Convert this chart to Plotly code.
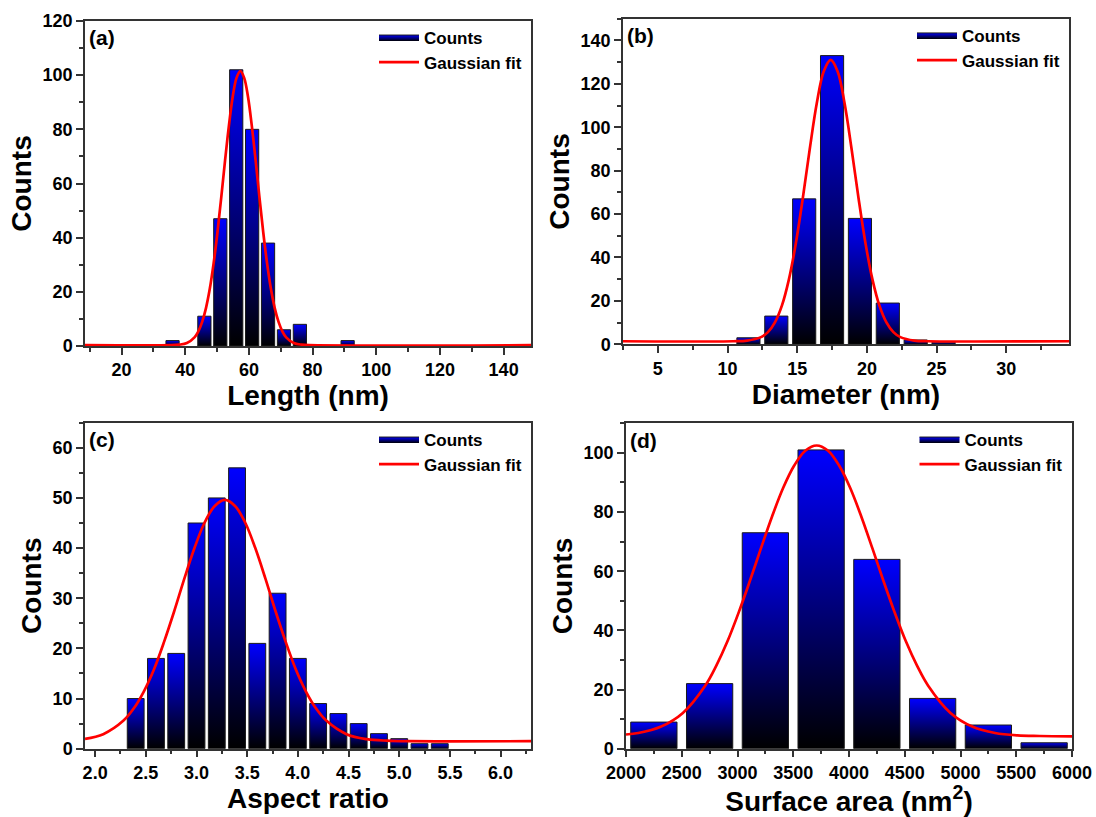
import plotly.graph_objects as go

# ---------------- data ----------------
# (a) Length
len_centers = [36, 46, 51, 56, 61, 66, 71, 76, 91]
len_counts = [2, 11, 47, 102, 80, 38, 6, 8, 2]
len_bin = 5
len_fit_x = [8.5, 35.7, 38.1, 40.5, 42.9, 44.1, 45.3, 46.5, 47.7, 48.9, 50.1, 51.3, 52.5,
             53.7, 54.9, 56.1, 57.3, 58.5, 59.7, 60.9, 62.1, 63.3, 64.5, 65.7, 66.9,
             68.1, 69.3, 70.5, 71.7, 74.1, 76.5, 78.9, 148.6]
len_fit_y = [0.3, 0.3, 0.5, 1.1, 3.2, 5.4, 8.9, 14.0, 21.1, 30.5, 41.9, 54.9, 68.5,
             81.3, 92.0, 99.0, 101.5, 99.0, 92.0, 81.3, 68.5, 54.9, 41.9, 30.5, 21.1,
             14.0, 8.9, 5.4, 3.2, 1.1, 0.5, 0.3, 0.3]

# (b) Diameter
dia_centers = [11.5, 13.5, 15.5, 17.5, 19.5, 21.5, 23.5, 25.5]
dia_counts = [3, 13, 67, 133, 58, 19, 2, 1]
dia_bin = 2
dia_fit_x = [2.5, 10.4, 11.4, 12.4, 12.9, 13.4, 13.9, 14.4, 14.9, 15.4, 15.9, 16.4, 16.9,
             17.4, 17.9, 18.4, 18.9, 19.4, 19.9, 20.4, 20.9, 21.4, 21.9, 22.4, 23.4,
             24.4, 34.5]
dia_fit_y = [1.4, 1.4, 1.7, 3.3, 5.6, 10.1, 17.8, 29.8, 46.5, 67.3, 90.0, 110.9, 125.7,
             131.0, 125.7, 110.9, 90.0, 67.3, 46.5, 29.8, 17.8, 10.1, 5.6, 3.3, 1.7,
             1.4, 1.4]

# (c) Aspect ratio
ar_centers = [2.4, 2.6, 2.8, 3.0, 3.2, 3.4, 3.6, 3.8, 4.0, 4.2, 4.4, 4.6, 4.8, 5.0, 5.2, 5.4]
ar_counts = [10, 18, 19, 45, 50, 56, 21, 31, 18, 9, 7, 5, 3, 2, 1, 1]
ar_bin = 0.2
ar_fit_x = [1.9, 2.08, 2.28, 2.38, 2.48, 2.58, 2.68, 2.78, 2.88, 2.98, 3.08, 3.18, 3.28,
            3.38, 3.48, 3.58, 3.68, 3.78, 3.88, 3.98, 4.08, 4.18, 4.28, 4.48, 4.68,
            4.88, 5.08, 6.3]
ar_fit_y = [1.95, 2.9, 5.6, 8.0, 11.4, 15.8, 21.3, 27.4, 33.9, 40.0, 45.1, 48.4, 49.6,
            48.4, 45.1, 40.0, 33.9, 27.4, 21.3, 15.8, 11.4, 8.0, 5.6, 2.9, 1.9,
            1.6, 1.5, 1.5]

# (d) Surface area
sa_centers = [2250, 2750, 3250, 3750, 4250, 4750, 5250, 5750]
sa_counts = [9, 22, 73, 101, 64, 17, 8, 2]
sa_bin = 500
sa_fit_x = [2000, 2110, 2310, 2510, 2710, 2810, 2910, 3010, 3110, 3210, 3310, 3410, 3510,
            3610, 3710, 3810, 3910, 4010, 4110, 4210, 4310, 4410, 4510, 4610, 4710,
            4910, 5110, 5310, 5510, 5710, 6000]
sa_fit_y = [4.8, 5.3, 7.4, 12.1, 21.3, 28.1, 36.3, 46.0, 56.6, 67.7, 78.5, 88.2, 95.8,
            100.8, 102.5, 100.8, 95.8, 88.2, 78.5, 67.7, 56.6, 46.0, 36.3, 28.1, 21.3,
            12.1, 7.4, 5.3, 4.5, 4.3, 4.2]

panel_letters = ["(a)", "(b)", "(c)", "(d)"]
x_titles = ["Length (nm)", "Diameter (nm)", "Aspect ratio", "Surface area (nm<sup>2</sup>)"]
y_title = "Counts"
bar_name = "Counts"
fit_name = "Gaussian fit"

# ---------------- styling ----------------
FONT = "Liberation Sans, Arial, sans-serif"
AXCOL = "#333333"
BAR_FRAC = 0.83
GRAD = [[0, "#000000"], [1, "#0000ff"]]

panels = [
    dict(c=len_centers, h=len_counts, b=len_bin, fx=len_fit_x, fy=len_fit_y,
         xr=[8.5, 148.6], xd=20, xm=10, xf=None, yr=[0, 120], yd=20, ym=10,
         xdom=[85 / 1096, 531 / 1096], ydom=[1 - 346 / 817, 1 - 21 / 817],
         leg=dict(x=527 / 1096, y=1 - 19.5 / 817)),
    dict(c=dia_centers, h=dia_counts, b=dia_bin, fx=dia_fit_x, fy=dia_fit_y,
         xr=[2.5, 34.5], xd=5, xm=2.5, xf=None, yr=[0, 150], yd=20, ym=10,
         xdom=[623 / 1096, 1069 / 1096], ydom=[1 - 344.3 / 817, 1 - 18.7 / 817],
         leg=dict(x=1065 / 1096, y=1 - 17.4 / 817)),
    dict(c=ar_centers, h=ar_counts, b=ar_bin, fx=ar_fit_x, fy=ar_fit_y,
         xr=[1.9, 6.3], xd=0.5, xm=0.25, xf=".1f", yr=[0, 65], yd=10, ym=5,
         xdom=[85 / 1096, 531 / 1096], ydom=[1 - 748.7 / 817, 1 - 422.7 / 817],
         leg=dict(x=527 / 1096, y=1 - 421.5 / 817)),
    dict(c=sa_centers, h=sa_counts, b=sa_bin, fx=sa_fit_x, fy=sa_fit_y,
         xr=[2000, 6000], xd=500, xm=250, xf=None, yr=[0, 110], yd=20, ym=10,
         xdom=[626 / 1096, 1072 / 1096], ydom=[1 - 748.7 / 817, 1 - 423.3 / 817],
         leg=dict(x=1067.5 / 1096, y=1 - 421.5 / 817)),
]

fig = go.Figure()
layout = dict(
    width=1096, height=817,
    margin=dict(l=0, r=0, t=0, b=0),
    paper_bgcolor="white", plot_bgcolor="white",
    font=dict(family=FONT, color="black"),
    annotations=[],
)

for i, p in enumerate(panels):
    k = "" if i == 0 else str(i + 1)
    xa, ya = "x" + k, "y" + k
    legname = "legend" + k
    w = p["b"] * BAR_FRAC
    for j, (c, h) in enumerate(zip(p["c"], p["h"])):
        fig.add_trace(go.Scatter(
            x=[c - w / 2, c - w / 2, c + w / 2, c + w / 2, c - w / 2],
            y=[0, h, h, 0, 0],
            mode="lines", fill="toself",
            fillgradient=dict(type="vertical", colorscale=GRAD),
            line=dict(color="#1a1a1a", width=1),
            name=bar_name, legendgroup="bars" + k, showlegend=(j == 0),
            legend=legname, xaxis=xa, yaxis=ya, hoverinfo="skip",
        ))
    fig.add_trace(go.Scatter(
        x=p["fx"], y=p["fy"], mode="lines",
        line=dict(color="#ff0000", width=2.7, shape="spline", smoothing=1),
        name=fit_name, legend=legname, xaxis=xa, yaxis=ya, hoverinfo="skip",
    ))

    common = dict(
        showline=True, linecolor=AXCOL, linewidth=1.5, mirror=True,
        ticks="outside", ticklen=7, tickwidth=1.5, tickcolor=AXCOL,
        showgrid=False, zeroline=False, automargin=False,
        tickfont=dict(family=FONT, size=18, weight="bold", color="black"),
    )
    layout["xaxis" + k] = dict(
        common, domain=p["xdom"], anchor=ya, range=p["xr"], dtick=p["xd"], tick0=0,
        tickformat=p["xf"] if p["xf"] else "",
        minor=dict(dtick=p["xm"], tick0=0, ticks="outside", ticklen=4, tickwidth=1.5,
                   tickcolor=AXCOL, showgrid=False),
        title=dict(text=x_titles[i], font=dict(family=FONT, size=28, weight="bold"),
                   standoff=3),
    )
    layout["yaxis" + k] = dict(
        common, domain=p["ydom"], anchor=xa, range=p["yr"], dtick=p["yd"], tick0=0,
        minor=dict(dtick=p["ym"], tick0=0, ticks="outside", ticklen=4, tickwidth=1.5,
                   tickcolor=AXCOL, showgrid=False),
        title=dict(text=y_title, font=dict(family=FONT, size=28, weight="bold"),
                   standoff=3),
    )
    layout[legname] = dict(
        x=p["leg"]["x"], y=p["leg"]["y"], xanchor="right", yanchor="top",
        xref="paper", yref="paper",
        bgcolor="rgba(0,0,0,0)", borderwidth=0, itemwidth=40,
        font=dict(family=FONT, size=17, weight="bold", color="black"),
        tracegroupgap=0,
    )
    layout["annotations"].append(dict(
        text=panel_letters[i], xref=xa + " domain", yref=ya + " domain",
        x=0.005, y=0.99, xanchor="left", yanchor="top", showarrow=False,
        font=dict(family=FONT, size=21, weight="bold", color="black"),
    ))

fig.update_layout(**layout)
fig.write_html(
    "out.html",
    config={"displayModeBar": False},
    post_script="document.body.style.margin='0px';document.body.style.overflow='hidden';",
)
